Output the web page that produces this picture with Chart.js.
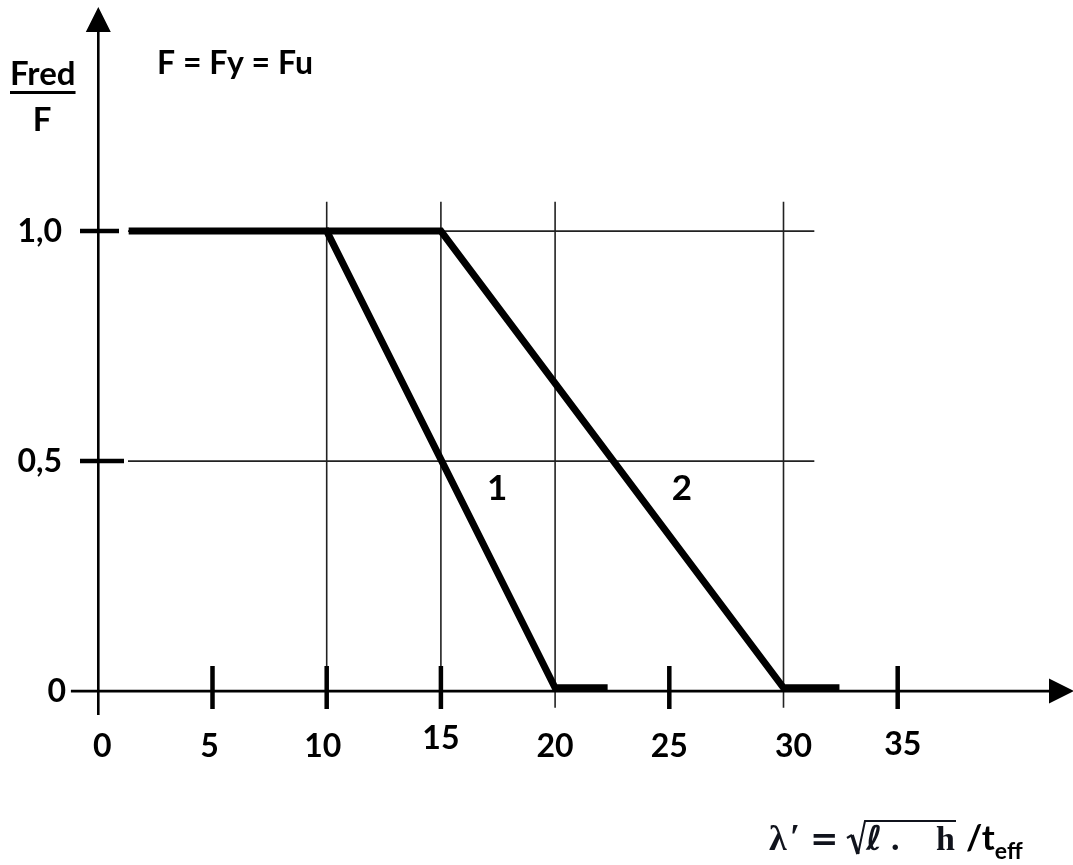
<!DOCTYPE html>
<html>
<head>
<meta charset="utf-8">
<title>Fred / F</title>
<script src="https://cdn.jsdelivr.net/npm/chart.js@4/dist/chart.umd.min.js"></script>
<style>
  html, body { margin: 0; padding: 0; background: #fff; }
  #wrap { width: 1073px; height: 865px; position: relative; }
</style>
</head>
<body>
<div id="wrap"><canvas id="chart"></canvas></div>
<script>
"use strict";

// Axis ticks and labels (decimal comma as in the original).
const xTicks = [0, 5, 10, 15, 20, 25, 30, 35];
const xTickLabels = ["0", "5", "10", "15", "20", "25", "30", "35"];
const xThickTicks = [5, 10, 15, 25, 35];
const yTicks = [0, 0.5, 1.0];
const yTickLabels = ["0", "0,5", "1,0"];
const yThickTicks = [0.5, 1.0];

// Reference grid.
const gridX = [10, 15, 20, 30];
const gridY = [0.5, 1.0];

// Curve 1 and curve 2: Fred/F against lambda'.
const curve1X = [1.33, 10, 20, 22.3];
const curve1Y = [1.0, 1.0, 0.007, 0.007];
const curve2X = [10, 15, 30, 32.45];
const curve2Y = [1.0, 1.0, 0.007, 0.007];

// Curve numbers placed next to the lines.
const curveNames = ["1", "2"];
const curveNameX = [17.46, 25.55];
const curveNameY = [0.44, 0.44];

const FONT = "Lato, 'Open Sans', sans-serif";
const points = (xs, ys) => xs.map((x, i) => ({ x, y: ys[i] }));

// The hand-set labels in the original are not perfectly centred on their ticks.
const xLabelNudge = { 0: [4, 0], 5: [-3, 0], 10: [-4, 0], 15: [0, -8], 30: [10, 0], 35: [5, -2] };

/** Grid lines behind the curves. */
const gridPlugin = {
  id: "grid",
  beforeDatasetsDraw(chart) {
    const { ctx, scales: { x, y } } = chart;
    ctx.save();
    ctx.strokeStyle = "#222";
    ctx.lineWidth = 1.6;
    ctx.beginPath();
    for (const v of gridX) {
      ctx.moveTo(x.getPixelForValue(v), y.getPixelForValue(1.064));
      ctx.lineTo(x.getPixelForValue(v), y.getPixelForValue(v === 10 || v === 15 ? 0 : -0.036));
    }
    for (const v of gridY) {
      ctx.moveTo(x.getPixelForValue(1.3), y.getPixelForValue(v));
      ctx.lineTo(x.getPixelForValue(31.35), y.getPixelForValue(v));
    }
    ctx.stroke();
    ctx.restore();
  },
};

/** Write pieces of text one after the other from x, returning the end x. */
function writeRun(ctx, x, baseline, pieces) {
  for (const [text, font, dy, gap] of pieces) {
    ctx.font = font;
    ctx.fillText(text, x, baseline + (dy || 0));
    x += ctx.measureText(text).width + (gap || 0);
  }
  return x;
}

/** Axes with arrows, tick marks and all text. */
const axesPlugin = {
  id: "axes",
  afterDatasetsDraw(chart) {
    const { ctx, scales: { x, y } } = chart;
    const x0 = x.getPixelForValue(0);
    const y0 = y.getPixelForValue(0);
    ctx.save();
    ctx.strokeStyle = "#000";
    ctx.fillStyle = "#000";

    // axis lines
    ctx.lineWidth = 2.6;
    ctx.beginPath();
    ctx.moveTo(x0, y.getPixelForValue(-0.052));
    ctx.lineTo(x0, 30);
    ctx.moveTo(x.getPixelForValue(-1.2), y0);
    ctx.lineTo(1052, y0);
    ctx.stroke();

    // arrow heads
    ctx.beginPath();
    ctx.moveTo(x0, 7);
    ctx.lineTo(x0 - 12.5, 32);
    ctx.lineTo(x0 + 12.5, 32);
    ctx.closePath();
    ctx.moveTo(1074, y0);
    ctx.lineTo(1049, y0 - 12.5);
    ctx.lineTo(1049, y0 + 12.5);
    ctx.closePath();
    ctx.fill();

    // thick tick marks
    ctx.lineWidth = 4.5;
    ctx.beginPath();
    for (const v of xThickTicks) {
      const px = x.getPixelForValue(v);
      ctx.moveTo(px, y0 - 25);
      ctx.lineTo(px, y0 + 18);
    }
    for (const v of yThickTicks) {
      const py = y.getPixelForValue(v);
      ctx.moveTo(80, py);
      ctx.lineTo(v === 1 ? 119 : 124, py);
    }
    ctx.stroke();

    // tick labels
    ctx.font = "bold 32px " + FONT;
    ctx.textAlign = "center";
    ctx.textBaseline = "middle";
    xTicks.forEach((v, i) => {
      const [dx, dy] = xLabelNudge[v] || [0, 0];
      ctx.fillText(xTickLabels[i], x.getPixelForValue(v) + dx, 747 + dy);
    });
    ctx.textAlign = "right";
    yTicks.forEach((v, i) => {
      ctx.fillText(yTickLabels[i], v === 0 ? 66 : 62, y.getPixelForValue(v) + 1);
    });

    // curve numbers
    ctx.font = "bold 35px " + FONT;
    ctx.textAlign = "center";
    curveNames.forEach((name, i) => {
      ctx.fillText(name, x.getPixelForValue(curveNameX[i]), y.getPixelForValue(curveNameY[i]));
    });

    // y-axis title as a fraction, and the note
    ctx.font = "bold 33px " + FONT;
    ctx.textAlign = "left";
    ctx.textBaseline = "alphabetic";
    ctx.fillText("Fred", 10, 85);
    const w = ctx.measureText("Fred").width;
    ctx.fillRect(10, 91, w, 3);
    ctx.textAlign = "center";
    ctx.fillText("F", 42, 131);
    ctx.textAlign = "left";
    ctx.font = "bold 32px " + FONT;
    ctx.fillText("F = Fy = Fu", 157, 74);

    // x-axis title: lambda' = sqrt(l . h) / t_eff
    const serif = "'Liberation Serif', 'DejaVu Serif', serif";
    ctx.fillStyle = "#10131c";
    ctx.font = "bold 36px " + serif;
    ctx.fillText("λ", 769, 850);
    ctx.fillText("′", 790, 849);
    ctx.font = "bold 34px 'DejaVu Serif', serif";
    ctx.fillText("=", 810, 850);
    // radical sign drawn as a stroke so it reaches the overline
    ctx.strokeStyle = "#10131c";
    ctx.lineJoin = "miter";
    ctx.lineWidth = 2.2;
    ctx.beginPath();
    ctx.moveTo(847, 838);
    ctx.lineTo(852, 835);
    ctx.stroke();
    ctx.lineWidth = 3.6;
    ctx.beginPath();
    ctx.moveTo(852, 835);
    ctx.lineTo(858, 854);
    ctx.stroke();
    ctx.lineWidth = 2;
    ctx.beginPath();
    ctx.moveTo(858, 854);
    ctx.lineTo(865, 821);
    ctx.lineTo(956, 821);
    ctx.stroke();
    ctx.font = "bold italic 34px 'DejaVu Sans', sans-serif";
    ctx.fillText("ℓ", 866, 850);
    ctx.font = "bold 34px " + serif;
    ctx.fillText(".", 891, 850);
    ctx.fillText("h", 936, 850);
    ctx.fillStyle = "#000";
    writeRun(ctx, 966, 850, [
      ["/t", "bold 35px " + FONT, 0, 0],
      ["eff", "bold 23px " + FONT, 9, 0],
    ]);
    ctx.restore();
  },
};

const lineStyle = {
  borderColor: "#000",
  borderWidth: 7,
  pointRadius: 0,
  tension: 0,
  fill: false,
  borderCapStyle: "butt",
  borderJoinStyle: "miter",
  clip: false,
};

new Chart(document.getElementById("chart"), {
  type: "line",
  data: {
    datasets: [
      { label: "1", data: points(curve1X, curve1Y), ...lineStyle },
      { label: "2", data: points(curve2X, curve2Y), ...lineStyle },
    ],
  },
  options: {
    responsive: true,
    maintainAspectRatio: false,
    animation: false,
    layout: { padding: { left: 70, right: 0, top: 8, bottom: 150 } },
    plugins: { legend: { display: false }, tooltip: { enabled: false } },
    scales: {
      x: { type: "linear", min: -1.239, max: 42.675, display: false },
      y: { type: "linear", min: -0.052, max: 1.485, display: false },
    },
  },
  plugins: [gridPlugin, axesPlugin],
});
</script>
</body>
</html>
